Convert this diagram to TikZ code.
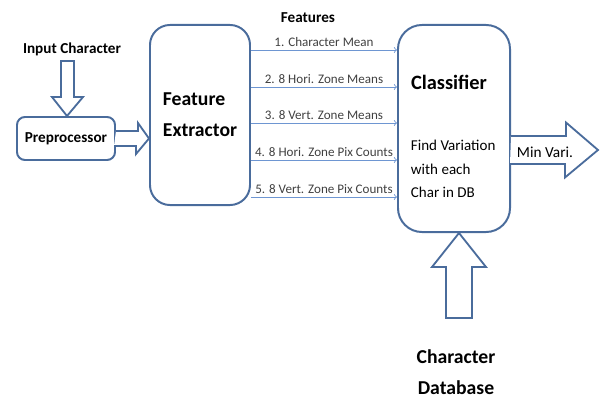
\documentclass[tikz,border=0pt]{standalone}
\usepackage{fontspec}
\setmainfont{Carlito}
\usepackage{tikz}
\usetikzlibrary{arrows.meta,positioning}

\definecolor{boxblue}{RGB}{74,108,156}
\definecolor{lineblue}{RGB}{110,150,210}
\definecolor{labelgray}{RGB}{64,64,64}

\begin{document}
\begin{tikzpicture}[x=0.025cm, y=-0.025cm]
		\tikzstyle{block} = [rectangle, draw=boxblue, line width=1.4pt, fill=white, text centered]
		\tikzstyle{bigarrow} = [draw=boxblue, line width=1.3pt, fill=white, line join=miter]
		\tikzstyle{arrow} = [draw=lineblue, line width=0.6pt, ->, >=to]
		\tikzstyle{title} = [font=\bfseries\fontsize{14}{22}\selectfont, align=left]
		\tikzstyle{caption} = [font=\bfseries\fontsize{10.8}{13}\selectfont]
		\tikzstyle{feature} = [font=\fontsize{9.3}{11}\selectfont, text=labelgray, above, inner sep=2pt]
		\useasboundingbox (0,0) rectangle (600,400);
		\node (preprocessor) [block, caption, rounded corners=0.2cm, minimum width=2.45cm, minimum height=1.075cm] at (66,138.5) {Preprocessor};
		\node (featureExtractor) [block, title, rounded corners=0.5cm, minimum width=2.5cm, minimum height=4.5cm] at (200,115) {Feature\\Extractor};
		\node (classifier) [block, rounded corners=0.6cm, minimum width=2.8cm, minimum height=5.175cm] at (454,128.5) {};
		\node (classifierTitle) [title, font=\bfseries\fontsize{14.5}{22}\selectfont] at (449,82) {Classifier};
		\node (variation) [anchor=west, align=left, font=\fontsize{10.7}{16.7}\selectfont] at (406,169) {Find Variation\\with each\\Char in DB};
		\node (inputChar) [caption] at (72,49) {Input Character};
		\node (features) [caption] at (308,18) {Features};
		\node (charDatabase) [title, align=center] at (456,372) {Character\\Database};
		\coordinate (minTip) at (598,150);
		% block arrows
		\draw [bigarrow] (preprocessor.north) ++(1,0) -- ++(-15,-19) -- ++(9,0) -- ++(0,-36) -- ++(13,0) -- ++(0,36) -- ++(9,0) -- cycle;
		\draw [bigarrow] (preprocessor.east) ++(0,-7.5) -- ++(22,0) -- ++(0,-8) -- (featureExtractor.west |- preprocessor.east) -- ++(-13,15.5) -- ++(0,-8) -- ++(-22,0);
		\draw [bigarrow] (classifier.south) ++(5,0) -- ++(-27,34) -- ++(14,0) -- ++(0,51) -- ++(26,0) -- ++(0,-51) -- ++(14,0) -- cycle;
		\draw [bigarrow] (classifier.east |- minTip) ++(0,-14) -- ++(55,0) -- ++(0,-13.5) -- (minTip) -- ++(-33,27.5) -- ++(0,-13.5) -- ++(-55,0);
		\node (minVari) [font=\fontsize{10.9}{13}\selectfont] at (545,152) {Min Vari.};
		% feature lines
		\draw [arrow] (featureExtractor.east |- 0,50) -- node [feature] {1. Character Mean} (classifier.west |- 0,50);
		\draw [arrow] (featureExtractor.east |- 0,87) -- node [feature] {2. 8 Hori. Zone Means} (classifier.west |- 0,87);
		\draw [arrow] (featureExtractor.east |- 0,123) -- node [feature] {3. 8 Vert. Zone Means} (classifier.west |- 0,123);
		\draw [arrow] (featureExtractor.east |- 0,160) -- node [feature] {4. 8 Hori. Zone Pix Counts} (classifier.west |- 0,160);
		\draw [arrow] (featureExtractor.east |- 0,197) -- node [feature] {5. 8 Vert. Zone Pix Counts} (classifier.west |- 0,197);
\end{tikzpicture}
\end{document}
